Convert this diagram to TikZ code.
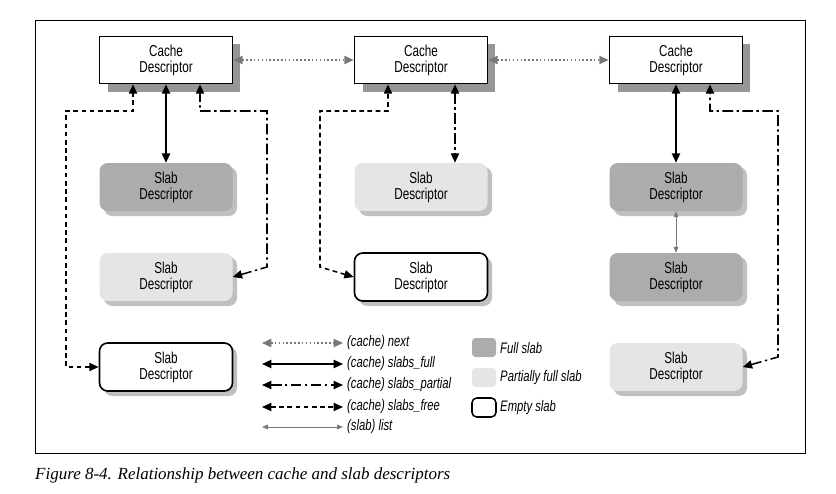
\documentclass[tikz,border=0pt]{standalone}
\usepackage{fontspec}
\usetikzlibrary{arrows.meta}
\newfontfamily\cond{Liberation Sans}[FakeStretch=0.74]
\setmainfont{Liberation Serif}
\definecolor{fullc}{RGB}{172,172,174}
\definecolor{partc}{RGB}{228,229,231}
\definecolor{shc}{RGB}{150,150,150}
\definecolor{nextc}{RGB}{120,120,120}
\begin{document}
\begin{tikzpicture}[x=0.03cm,y=-0.03cm,
  tip/.style={-{Triangle[length=8pt,width=7pt]}},
  btip/.style={{Triangle[length=8pt,width=7pt]}-{Triangle[length=8pt,width=7pt]}},
  cache/.style={draw,line width=1.4pt,fill=white,minimum width=133*0.03cm,minimum height=47*0.03cm,align=center,font=\cond\fontsize{13.5}{13.5}\selectfont,inner sep=0pt},
  slab/.style={rounded corners=7pt,minimum width=133*0.03cm,minimum height=48*0.03cm,align=center,font=\cond\fontsize{13.5}{13.5}\selectfont,inner sep=0pt},
  full/.style={slab,fill=fullc},
  part/.style={slab,fill=partc},
  empty/.style={slab,draw,line width=1.4pt,fill=white},
  freel/.style={line width=1.3pt,dash pattern=on 4pt off 3pt},
  fulll/.style={line width=1.5pt},
  partl/.style={line width=1.3pt,dash pattern=on 9pt off 3pt on 2pt off 3pt},
  nextl/.style={line width=1.3pt,nextc,dotted},
  listl/.style={line width=0.8pt,nextc},
  lg/.style={anchor=west,font=\cond\itshape\fontsize{13}{13}\selectfont,inner sep=0pt}]
\useasboundingbox (0,0) rectangle (836,493);
\draw[line width=0.8pt] (35,20) rectangle (805,453);
% shadows
\foreach \x in {166,421,676}{\fill[shc] (\x-58,44) rectangle (\x+74,92);}
\foreach \x/\y in {166/187,166/277,166/367,421/187,421/277,676/187,676/277,676/367}{
  \fill[shc!60,rounded corners=7pt] (\x-62,\y-20) rectangle (\x+71,\y+29);}
\node[cache] (c1) at (166,60) {Cache\\Descriptor};
\node[cache] (c2) at (421,60) {Cache\\Descriptor};
\node[cache] (c3) at (676,60) {Cache\\Descriptor};
\node[full] (s11) at (166,187) {Slab\\Descriptor};
\node[part] (s12) at (166,277) {Slab\\Descriptor};
\node[empty] (s13) at (166,367) {Slab\\Descriptor};
\node[part] (s21) at (421,187) {Slab\\Descriptor};
\node[empty] (s22) at (421,277) {Slab\\Descriptor};
\node[full] (s31) at (676,187) {Slab\\Descriptor};
\node[full] (s32) at (676,277) {Slab\\Descriptor};
\node[part] (s33) at (676,367) {Slab\\Descriptor};
% next
\draw[nextl,btip] (c1.east) -- (c2.west);
\draw[nextl,btip] (c2.east) -- (c3.west);
% column 1
\draw[freel,btip] (s13.west) -- (66,367) -- (66,111) -- (133,111) -- (c1.south -| 133,0);
\draw[fulll,btip] (c1.south) -- (s11.north);
\draw[partl,btip] (s12.east) -- (267,267) -- (267,111) -- (200,111) -- (c1.south -| 200,0);
% column 2
\draw[freel,btip] (s22.west) -- (320,267) -- (320,111) -- (388,111) -- (c2.south -| 388,0);
\draw[partl,btip] (c2.south -| 455,0) -- (s21.north -| 455,0);
% column 3
\draw[fulll,btip] (c3.south) -- (s31.north);
\draw[partl,btip] (s33.east) -- (778,357) -- (778,111) -- (710,111) -- (c3.south -| 710,0);
\draw[listl,{Triangle[length=5pt,width=4pt]}-{Triangle[length=5pt,width=4pt]}] (s31.south) -- (s32.north);
% legend
\coordinate (a1) at (262,343); \coordinate (b1) at (343,343);
\coordinate (a2) at (262,364); \coordinate (b2) at (343,364);
\coordinate (a3) at (262,385); \coordinate (b3) at (343,385);
\coordinate (a4) at (262,407); \coordinate (b4) at (343,407);
\coordinate (a5) at (262,427); \coordinate (b5) at (343,427);
\draw[nextl,btip] (a1) -- (b1);
\draw[fulll,btip] (a2) -- (b2);
\draw[partl,btip] (a3) -- (b3);
\draw[freel,btip] (a4) -- (b4);
\draw[listl,{Triangle[length=5pt,width=4pt]}-{Triangle[length=5pt,width=4pt]}] (a5) -- (b5);
\node[lg] (l1) at (347,343) {(cache) next};
\node[lg] (l2) at (347,364) {(cache) slabs\_full};
\node[lg] (l3) at (347,385) {(cache) slabs\_partial};
\node[lg] (l4) at (347,407) {(cache) slabs\_free};
\node[lg] (l5) at (347,427) {(slab) list};
\fill[fullc,rounded corners=3pt] (472,338) rectangle (496,357);
\fill[partc,rounded corners=3pt] (472,368) rectangle (496,387);
\draw[line width=1.3pt,rounded corners=4pt] (472,398) rectangle (496,417);
\node[lg] (k1) at (500,348) {Full slab};
\node[lg] (k2) at (500,378) {Partially full slab};
\node[lg] (k3) at (500,408) {Empty slab};
\node[anchor=west,inner sep=0pt,font=\itshape\fontsize{14.5}{15}\selectfont] (cap) at (35,475) {Figure 8-4. Relationship between cache and slab descriptors};
\end{tikzpicture}
\end{document}
